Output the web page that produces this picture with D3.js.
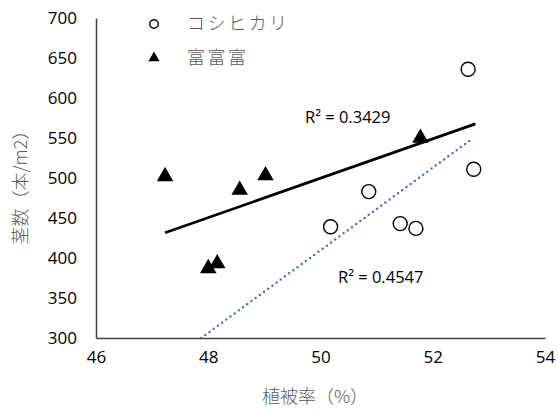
<!DOCTYPE html>
<html><head><meta charset="utf-8">
<script src="https://cdn.jsdelivr.net/npm/d3@7"></script>
<style>body{margin:0;background:#fff}svg{display:block}</style>
</head><body>
<svg id="c" width="558" height="412"></svg>
<script>
const xTicks = [46, 48, 50, 52, 54];
const yTicks = [300, 350, 400, 450, 500, 550, 600, 650, 700];
const koshiX = [50.18, 50.86, 51.42, 51.70, 52.63, 52.73];
const koshiY = [439, 483, 443, 437, 636, 511];
const fuX = [47.23, 49.02, 48.56, 48.00, 48.16, 51.78];
const fuY = [502, 503, 485, 387, 393, 550];
const seriesNames = ["コシヒカリ", "富富富"];
const r2Labels = ["R² = 0.4547", "R² = 0.3429"];
const fuTrendRange = [47.23, 52.76];
const koshiTrendRange = [47.5, 52.72];

const svg = d3.select("#c");
const x = d3.scaleLinear().domain([46, 54]).range([96, 545]);
const y = d3.scaleLinear().domain([300, 700]).range([338, 18]);

function fit(xs, ys) {
  const mx = d3.mean(xs), my = d3.mean(ys);
  let sxy = 0, sxx = 0;
  xs.forEach((v, i) => { sxy += (v - mx) * (ys[i] - my); sxx += (v - mx) ** 2; });
  const b = sxy / sxx;
  return v => my + b * (v - mx);
}

svg.append("clipPath").attr("id", "pc").append("rect")
  .attr("x", 96).attr("y", 18).attr("width", 449).attr("height", 320);

const font = "'Open Sans', sans-serif";
// axes
const xa = svg.append("g").attr("transform", "translate(0,338)")
  .call(d3.axisBottom(x).tickValues(xTicks).tickSize(0).tickPadding(13));
const ya = svg.append("g").attr("transform", "translate(96,0)")
  .call(d3.axisLeft(y).tickValues(yTicks).tickSize(0).tickPadding(19));
[xa, ya].forEach(a => {
  a.select(".domain").attr("stroke", "#404040").attr("stroke-width", 1.5);
  a.selectAll("text").attr("font-family", font).attr("font-size", 17).attr("fill", "#000");
});

// trendlines
const fFu = fit(fuX, fuY), fK = fit(koshiX, koshiY);
const line = d3.line().x(d => x(d[0])).y(d => y(d[1]));
svg.append("path").attr("clip-path", "url(#pc)")
  .attr("d", line(fuTrendRange.map(v => [v, fFu(v)])))
  .attr("stroke", "#000").attr("stroke-width", 2.75).attr("fill", "none");
svg.append("path").attr("clip-path", "url(#pc)")
  .attr("d", line(koshiTrendRange.map(v => [v, fK(v)])))
  .attr("stroke", "#4472C4").attr("stroke-width", 2.5).attr("fill", "none")
  .attr("stroke-dasharray", "0,5.2").attr("stroke-linecap", "round");

// points
const tri = d3.symbol().type(d3.symbolTriangle).size(118);
svg.selectAll(".k").data(koshiX).enter().append("circle")
  .attr("cx", d => x(d)).attr("cy", (d, i) => y(koshiY[i])).attr("r", 7)
  .attr("fill", "#fff").attr("stroke", "#000").attr("stroke-width", 1.4);
svg.selectAll(".f").data(fuX).enter().append("path")
  .attr("d", tri).attr("transform", (d, i) => `translate(${x(d)},${y(fuY[i])})`)
  .attr("fill", "#000");

// R2 labels
svg.append("text").attr("x", 338).attr("y", 283).text(r2Labels[0])
  .attr("font-family", font).attr("font-size", 16.5).attr("fill", "#000");
svg.append("text").attr("x", 305).attr("y", 123).text(r2Labels[1])
  .attr("font-family", font).attr("font-size", 16.5).attr("fill", "#000");

// legend
const cjk = "'Noto Sans CJK JP', sans-serif";
svg.append("circle").attr("cx", 154).attr("cy", 24).attr("r", 4.2)
  .attr("fill", "#fff").attr("stroke", "#000").attr("stroke-width", 1.4);
svg.append("path").attr("d", d3.symbol().type(d3.symbolTriangle).size(55))
  .attr("transform", "translate(154,58)").attr("fill", "#000");
seriesNames.forEach((n, i) => {
  svg.append("text").attr("x", 187).attr("y", 30 + i * 34).text(n)
    .attr("font-family", cjk).attr("font-size", 18).attr("font-weight", 300)
    .attr("letter-spacing", 2.5).attr("fill", "#595959");
});

// axis titles
svg.append("text").attr("x", 315).attr("y", 403).attr("text-anchor", "middle")
  .text("植被率（%）").attr("font-family", cjk).attr("font-size", 18)
  .attr("font-weight", 300).attr("fill", "#595959");
svg.append("text").attr("transform", "translate(27,183) rotate(-90)")
  .attr("text-anchor", "middle").text("茎数（本/m2）")
  .attr("font-family", cjk).attr("font-size", 18).attr("font-weight", 300)
  .attr("fill", "#595959");
</script>
</body></html>
